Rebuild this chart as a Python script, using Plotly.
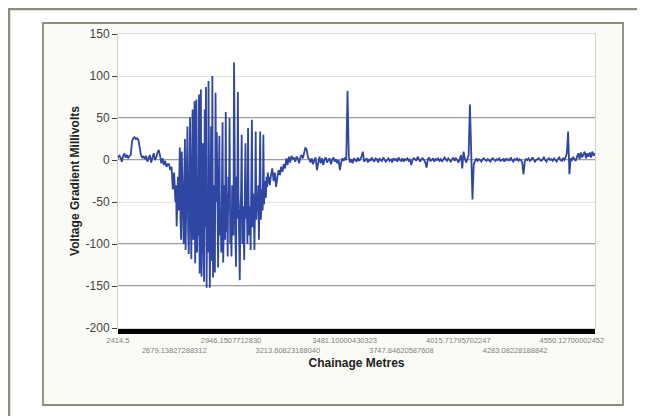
import plotly.graph_objects as go

# ---- data ----
# quiet start, before the disturbed zone
seg1_start = 2414.5
seg1_step = 6.0
seg1_mv = [
    2, 5, 3, -2, 4, 8, 3, 6, 2, 5,
    6, 22, 26, 27, 25, 26, 24, 14, 6, 3,
    4, 1, 5, -2, 3, 6, -3, 2, 8, 0,
    3, 9, 12, 5, -4, 2, -6, -1, -8, -5,
    -5, -12, -8, -35, -15,
]

# disturbed zone, sampled more densely
seg2_start = 2684.5
seg2_step = 3.0
seg2_mv = [
    -50, -30, -79, -45, -20, -60, -35, 15,
    -70, -95, 10, -40, -75, -100, -20, 25,
    -107, -60, -30, 40, -85, -112, -50, 51,
    -60, -118, -20, 60, -95, -70, 70, -123,
    -40, 72, -110, -60, -90, 78, -135, -50,
    84, -139, -70, 20, -100, -145, 60, -80,
    87, -152, -40, -110, 94, -60, -152, -90,
    40, -120, 100, -140, -30, -70, -134, 80,
    -50, 33, -100, -128, -40, 29, -90, -60,
    -110, -45, 45, -122, -70, -30, -95, 57,
    -85, -40, -115, -20, -60, 50, -100, -75,
    -115, -30, -50, -90, 116, -60, -80, -127,
    -20, -70, 81, -45, -90, -143, -60, -40,
    30, -100, -55, -80, -119, -35, 20, -70,
    -45, -100, 38, -60, -90, -55, -107, -30,
    48, -80, -40, -60, -107, -50, 34, -71,
    -45, -60, -30, -95, -40, 34, -71, -50,
    -35, -60, 30, -53, -40, -25, -45, -20, -32, -15, -28, -20, -30, -18,
]

# recovery and the long quiet section with isolated spikes
seg3_start = 3134.5
seg3_step = 6.0
seg3_mv = [
    -18, -10, -25, -15, -32, -20, -12, -18, -8, -14,
    -5, -10, 2, -6, 4, -3, 5, 1, 3, -2,
    4, 2, -4, 3, 6, 2, 8, 15, 12, 3,
    1, -3, 2, -5, 0, 3, -12, -2, 4, -4,
    2, -6, 1, 3, -3, 0, 2, -5, 1, 3,
    -2, 1, -4, 0, -12, -3, 2, -1, 3, 0,
    82, 4, -3, 1, -4, 2, 0, -2, 3, -1,
    1, 4, 10, -2, 0, 2, -3, 1, -1, 3,
    0, -2, 2, 1, -3, 2, 0, -1, 3, 1,
    -2, 0, 2, -1, 1, -3, 2, 0, 1, -2,
    3, 0, -1, 2, -2, 1, 0, 2, -1, 1,
    -6, 0, 2, 1, -1, 4, 0, -2, 1, 2,
    0, -3, -9, 1, 3, -1, 0, 2, -2, 1,
    0, 2, -1, 1, -2, 0, 3, 1, -1, 2,
    0, -2, 1, 3, -1, 2, 0, -3, 1, 6,
    -10, 10, 2, -3, 1, 6, 66, 5, -47, -5,
    0, 2, -1, 1, 0, -2, 1, 2, 0, -1,
    1, 0, -2, 1, 2, 0, -1, 1, 0, 2,
    -1, 0, 1, -2, 2, 0, 1, -1, 3, 0,
    -2, 1, 0, 2, -1, 1, 0, -3, -17, -2,
    1, 0, 2, -1, 0, 3, 1, -2, 0, 1,
    2, 0, -1, 1, 3, 0, -2, 1, 2, 0,
    1, -1, 2, 0, -2, 1, 3, 0, -1, 2,
    0, 3, 8, 34, -17, 2, 0, 3, 1, -1,
    4, 8, 1, 9, 3, 6, 10, 2, 8, 4,
    9, 3, 10, 5, 8,
]

x_tick_values = [2414.5, 2679.13827288312, 2946.1507712830, 3213.60823188040,
                 3481.10000430323, 3747.84620587608, 4015.71795702247,
                 4283.08228188842, 4550.12700002452]
x_tick_labels = ["2414.5", "2679.13827288312", "2946.1507712830", "3213.60823188040",
                 "3481.10000430323", "3747.84620587608", "4015.71795702247",
                 "4283.08228188842", "4550.12700002452"]
x_range = [2414.5, 4659.0]

y_tick_values = [150, 100, 50, 0, -50, -100, -150, -200]
y_tick_labels = ["150", "100", "50", "0", "-50", "-100", "-150", "-200"]
y_dark_grid = [50, 0, -100, -150]

# ---- build series ----
chainage, mv = [], []
for start, step, vals in [(seg1_start, seg1_step, seg1_mv),
                          (seg2_start, seg2_step, seg2_mv),
                          (seg3_start, seg3_step, seg3_mv)]:
    chainage += [start + step * i for i in range(len(vals))]
    mv += list(vals)

# dense tick band along the x axis (every 2 m), labels only at the label positions
dense = [x_range[0] + 2.0 * k for k in range(int((x_range[1] - x_range[0]) / 2.0) + 1)]
label_map = {}
for k, (v, t) in enumerate(zip(x_tick_values, x_tick_labels)):
    label_map[v] = t if k % 2 == 0 else " <br>" + t
all_vals = sorted(set(dense) | set(x_tick_values))
all_text = [label_map.get(v, "") for v in all_vals]

# ---- geometry (figure pixels; the page adds an 8 px body margin) ----
W, H = 637, 408
L, R, T, B = 110, 587, 26, 320
def px(xp):
    return (xp - L) / (R - L)
def py(yp):
    return (B - yp) / (B - T)

fig = go.Figure()
fig.add_trace(go.Scatter(
    x=chainage, y=mv, mode="lines",
    line=dict(color="#2f46a2", width=1.8), showlegend=False,
))

frame_col = "#8a8c7c"
shapes = [
    dict(type="line", xref="paper", yref="paper", x0=px(0), x1=px(640), y0=py(1), y1=py(1),
         line=dict(color=frame_col, width=2.5), layer="below"),
    dict(type="line", xref="paper", yref="paper", x0=px(1), x1=px(1), y0=py(0), y1=py(410),
         line=dict(color=frame_col, width=2.5), layer="below"),
    dict(type="rect", xref="paper", yref="paper", x0=px(35), x1=px(615), y0=py(397), y1=py(15),
         line=dict(color=frame_col, width=1.8), fillcolor="#fbfbf6", layer="below"),
    dict(type="rect", xref="paper", yref="paper", x0=0, x1=1, y0=0, y1=1,
         line=dict(width=0), fillcolor="#ffffff", layer="below"),
]
for v in y_dark_grid:
    shapes.append(dict(type="line", xref="paper", yref="y", x0=0, x1=1, y0=v, y1=v,
                       line=dict(color="#3c3c3c", width=1), layer="between"))

fig.update_layout(
    width=W, height=H, autosize=False,
    margin=dict(l=L, r=W - R, t=T, b=H - B, pad=0),
    paper_bgcolor="#ffffff", plot_bgcolor="rgba(0,0,0,0)",
    font=dict(family="Arial, Liberation Sans, sans-serif", color="#333333"),
    shapes=shapes,
    xaxis=dict(
        range=x_range, tickmode="array", tickvals=all_vals, ticktext=all_text,
        ticks="outside", ticklen=5, tickwidth=1, tickcolor="#000000",
        tickangle=0, tickfont=dict(size=7.5, color="#808080"),
        showgrid=False, zeroline=False, showline=True, linecolor="#d8d8d8", mirror=True,
        title=dict(text="<b>Chainage Metres</b>", font=dict(size=12, color="#222222"), standoff=4),
    ),
    yaxis=dict(
        range=[-200, 150], tickmode="array", tickvals=y_tick_values, ticktext=y_tick_labels,
        ticks="outside", ticklen=5, tickwidth=1, tickcolor="#444444",
        tickfont=dict(size=12, color="#444444"),
        showgrid=True, gridcolor="#e4e4e4", gridwidth=1, zeroline=False,
        showline=True, linecolor="#d0d0d0", mirror=True,
        title=dict(text="<b>Voltage Gradient Millivolts</b>", font=dict(size=12, color="#222222"), standoff=3),
    ),
)

fig.write_html("out.html")
